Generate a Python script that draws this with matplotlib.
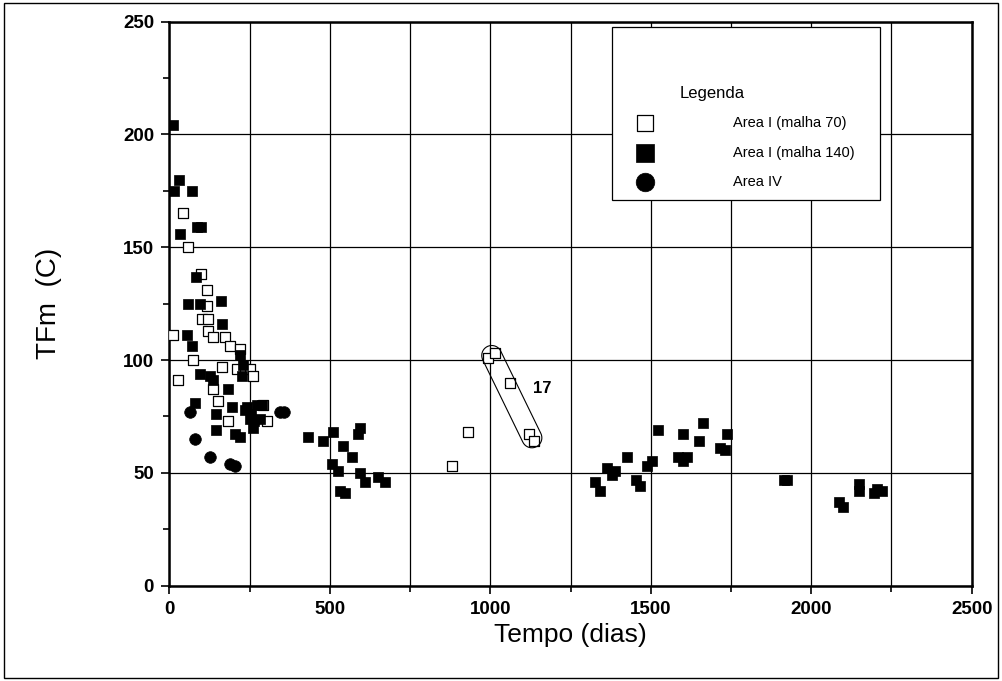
import numpy as np
import matplotlib
matplotlib.use("Agg")
import matplotlib.pyplot as plt
from matplotlib.patches import Polygon, Rectangle
from matplotlib.ticker import MultipleLocator

plt.rcParams['font.family'] = ['Liberation Sans', 'DejaVu Sans']

# Area I (malha 70) - open squares
m70_dias = [12, 28, 44, 58, 75, 100, 101, 116, 118, 122, 122, 137, 137, 153, 163,
            174, 184, 189, 210, 220, 236, 251, 262, 293, 303,
            880, 932, 994, 1015, 1061, 1122, 1137]
m70_tfm = [111, 91, 165, 150, 100, 138, 118, 124, 131, 118, 113, 110, 87, 82, 97,
           110, 73, 106, 96, 105, 96, 96, 93, 80, 73,
           53, 68, 101, 103, 90, 67, 64]

# Area I (malha 140) - filled squares
m140_dias = [10, 15, 30, 72, 33, 85, 100, 82, 59, 96, 160, 163, 56, 72, 220, 231,
             96, 127, 137, 226, 184, 80, 194, 241, 272, 288, 145, 255, 265, 145,
             205, 220, 235, 250, 262, 283,
             433, 511, 480, 594, 589, 542, 568, 506, 527, 594, 610, 651, 672, 532, 547,
             1327, 1342, 1363, 1378, 1389, 1425, 1454, 1467, 1488, 1503, 1524,
             1586, 1601, 1600, 1612, 1651, 1664, 1716, 1731, 1739,
             1916, 1925, 2085, 2100, 2150, 2150, 2195, 2205, 2220]
m140_tfm = [204, 175, 180, 175, 156, 159, 159, 137, 125, 125, 126, 116, 111, 106, 102, 98,
            94, 93, 91, 93, 87, 81, 79, 79, 80, 80, 76, 76, 73, 69,
            67, 66, 78, 74, 70, 74,
            66, 68, 64, 70, 67, 62, 57, 54, 51, 50, 46, 48, 46, 42, 41,
            46, 42, 52, 49, 51, 57, 47, 44, 53, 55, 69,
            57, 55, 67, 57, 64, 72, 61, 60, 67,
            47, 47, 37, 35, 42, 45, 41, 43, 42]

# Area IV - filled circles
a4_dias = [65, 80, 127, 189, 205, 345, 358]
a4_tfm = [77, 65, 57, 54, 53, 77, 77]

# indices of the open-square points belonging to group 17
grupo17 = [27, 28, 29, 30, 31]

fig = plt.figure(figsize=(10.02, 6.81), dpi=100)
ax = fig.add_axes([0.169, 0.1402, 0.8008, 0.8279])

ax.set_xlim(0, 2500)
ax.set_ylim(0, 250)
ax.xaxis.set_major_locator(MultipleLocator(500))
ax.xaxis.set_minor_locator(MultipleLocator(250))
ax.yaxis.set_major_locator(MultipleLocator(50))
ax.yaxis.set_minor_locator(MultipleLocator(25))
ax.grid(True, which='major', axis='y', color='black', lw=0.9)
ax.grid(True, which='both', axis='x', color='black', lw=0.9)
ax.set_axisbelow(True)
ax.tick_params(which='both', direction='out', width=1.2)
ax.tick_params(which='major', length=6, labelsize=13.5, pad=5)
ax.tick_params(which='minor', length=4)
for lab in ax.get_xticklabels() + ax.get_yticklabels():
    lab.set_fontweight('bold')
for sp in ax.spines.values():
    sp.set_linewidth(1.8)

ax.scatter(m70_dias, m70_tfm, marker='s', s=58, facecolor='white',
           edgecolor='black', linewidth=0.9, zorder=3, label='Area I (malha 70)')
ax.scatter(m140_dias, m140_tfm, marker='s', s=62, facecolor='black',
           edgecolor='black', linewidth=0.5, zorder=4, label='Area I (malha 140)')
ax.scatter(a4_dias, a4_tfm, marker='o', s=70, facecolor='black',
           edgecolor='black', linewidth=0.5, zorder=4, label='Area IV')

# enclosure around group 17 (stadium shape in display space)
fig.canvas.draw()
pts = ax.transData.transform(np.column_stack([np.array(m70_dias)[grupo17],
                                              np.array(m70_tfm)[grupo17]]))
p0 = pts[:2].mean(axis=0)
p1 = pts[-2:].mean(axis=0)
d = p1 - p0
u = d / np.hypot(*d)
n = np.array([-u[1], u[0]])
r = 10.0
ang0 = np.arctan2(n[1], n[0])
arc1 = [p1 + r * np.array([np.cos(a), np.sin(a)]) for a in np.linspace(ang0 - np.pi, ang0, 20)]
arc0 = [p0 + r * np.array([np.cos(a), np.sin(a)]) for a in np.linspace(ang0, ang0 + np.pi, 20)]
outline = ax.transData.inverted().transform(np.array(arc1 + arc0))
ax.add_patch(Polygon(outline, closed=True, fill=False, edgecolor='black', lw=0.8, zorder=5))
lab_xy = ax.transData.inverted().transform(pts[2] + np.array([32, -6]))
ax.text(lab_xy[0], lab_xy[1], '17', fontsize=12, fontweight='bold', ha='center', va='center')

# legend box with its own frame
ax.add_patch(Rectangle((0.552, 0.684), 0.334, 0.307, transform=ax.transAxes,
                       facecolor='white', edgecolor='black', lw=0.9, zorder=6))
leg = ax.legend(loc='upper left', bbox_to_anchor=(0.584, 0.886),
                title='Legenda', frameon=False, fontsize=10.5, title_fontsize=12,
                borderpad=0, labelspacing=1.05, handlelength=1.0, handletextpad=5.5,
                borderaxespad=0, markerscale=1.6)
leg.set_zorder(7)
leg._legend_box.align = 'left'
leg.get_title().set_position((42, 0))

ax.set_xlabel('Tempo (dias)', fontsize=19, labelpad=4)
ax.set_ylabel('TFm  (C)', fontsize=20, labelpad=44)

fig.patches.append(Rectangle((0.004, 0.004), 0.992, 0.992, transform=fig.transFigure,
                             fill=False, edgecolor='black', lw=1.0))

fig.savefig('out.png', dpi=100)
